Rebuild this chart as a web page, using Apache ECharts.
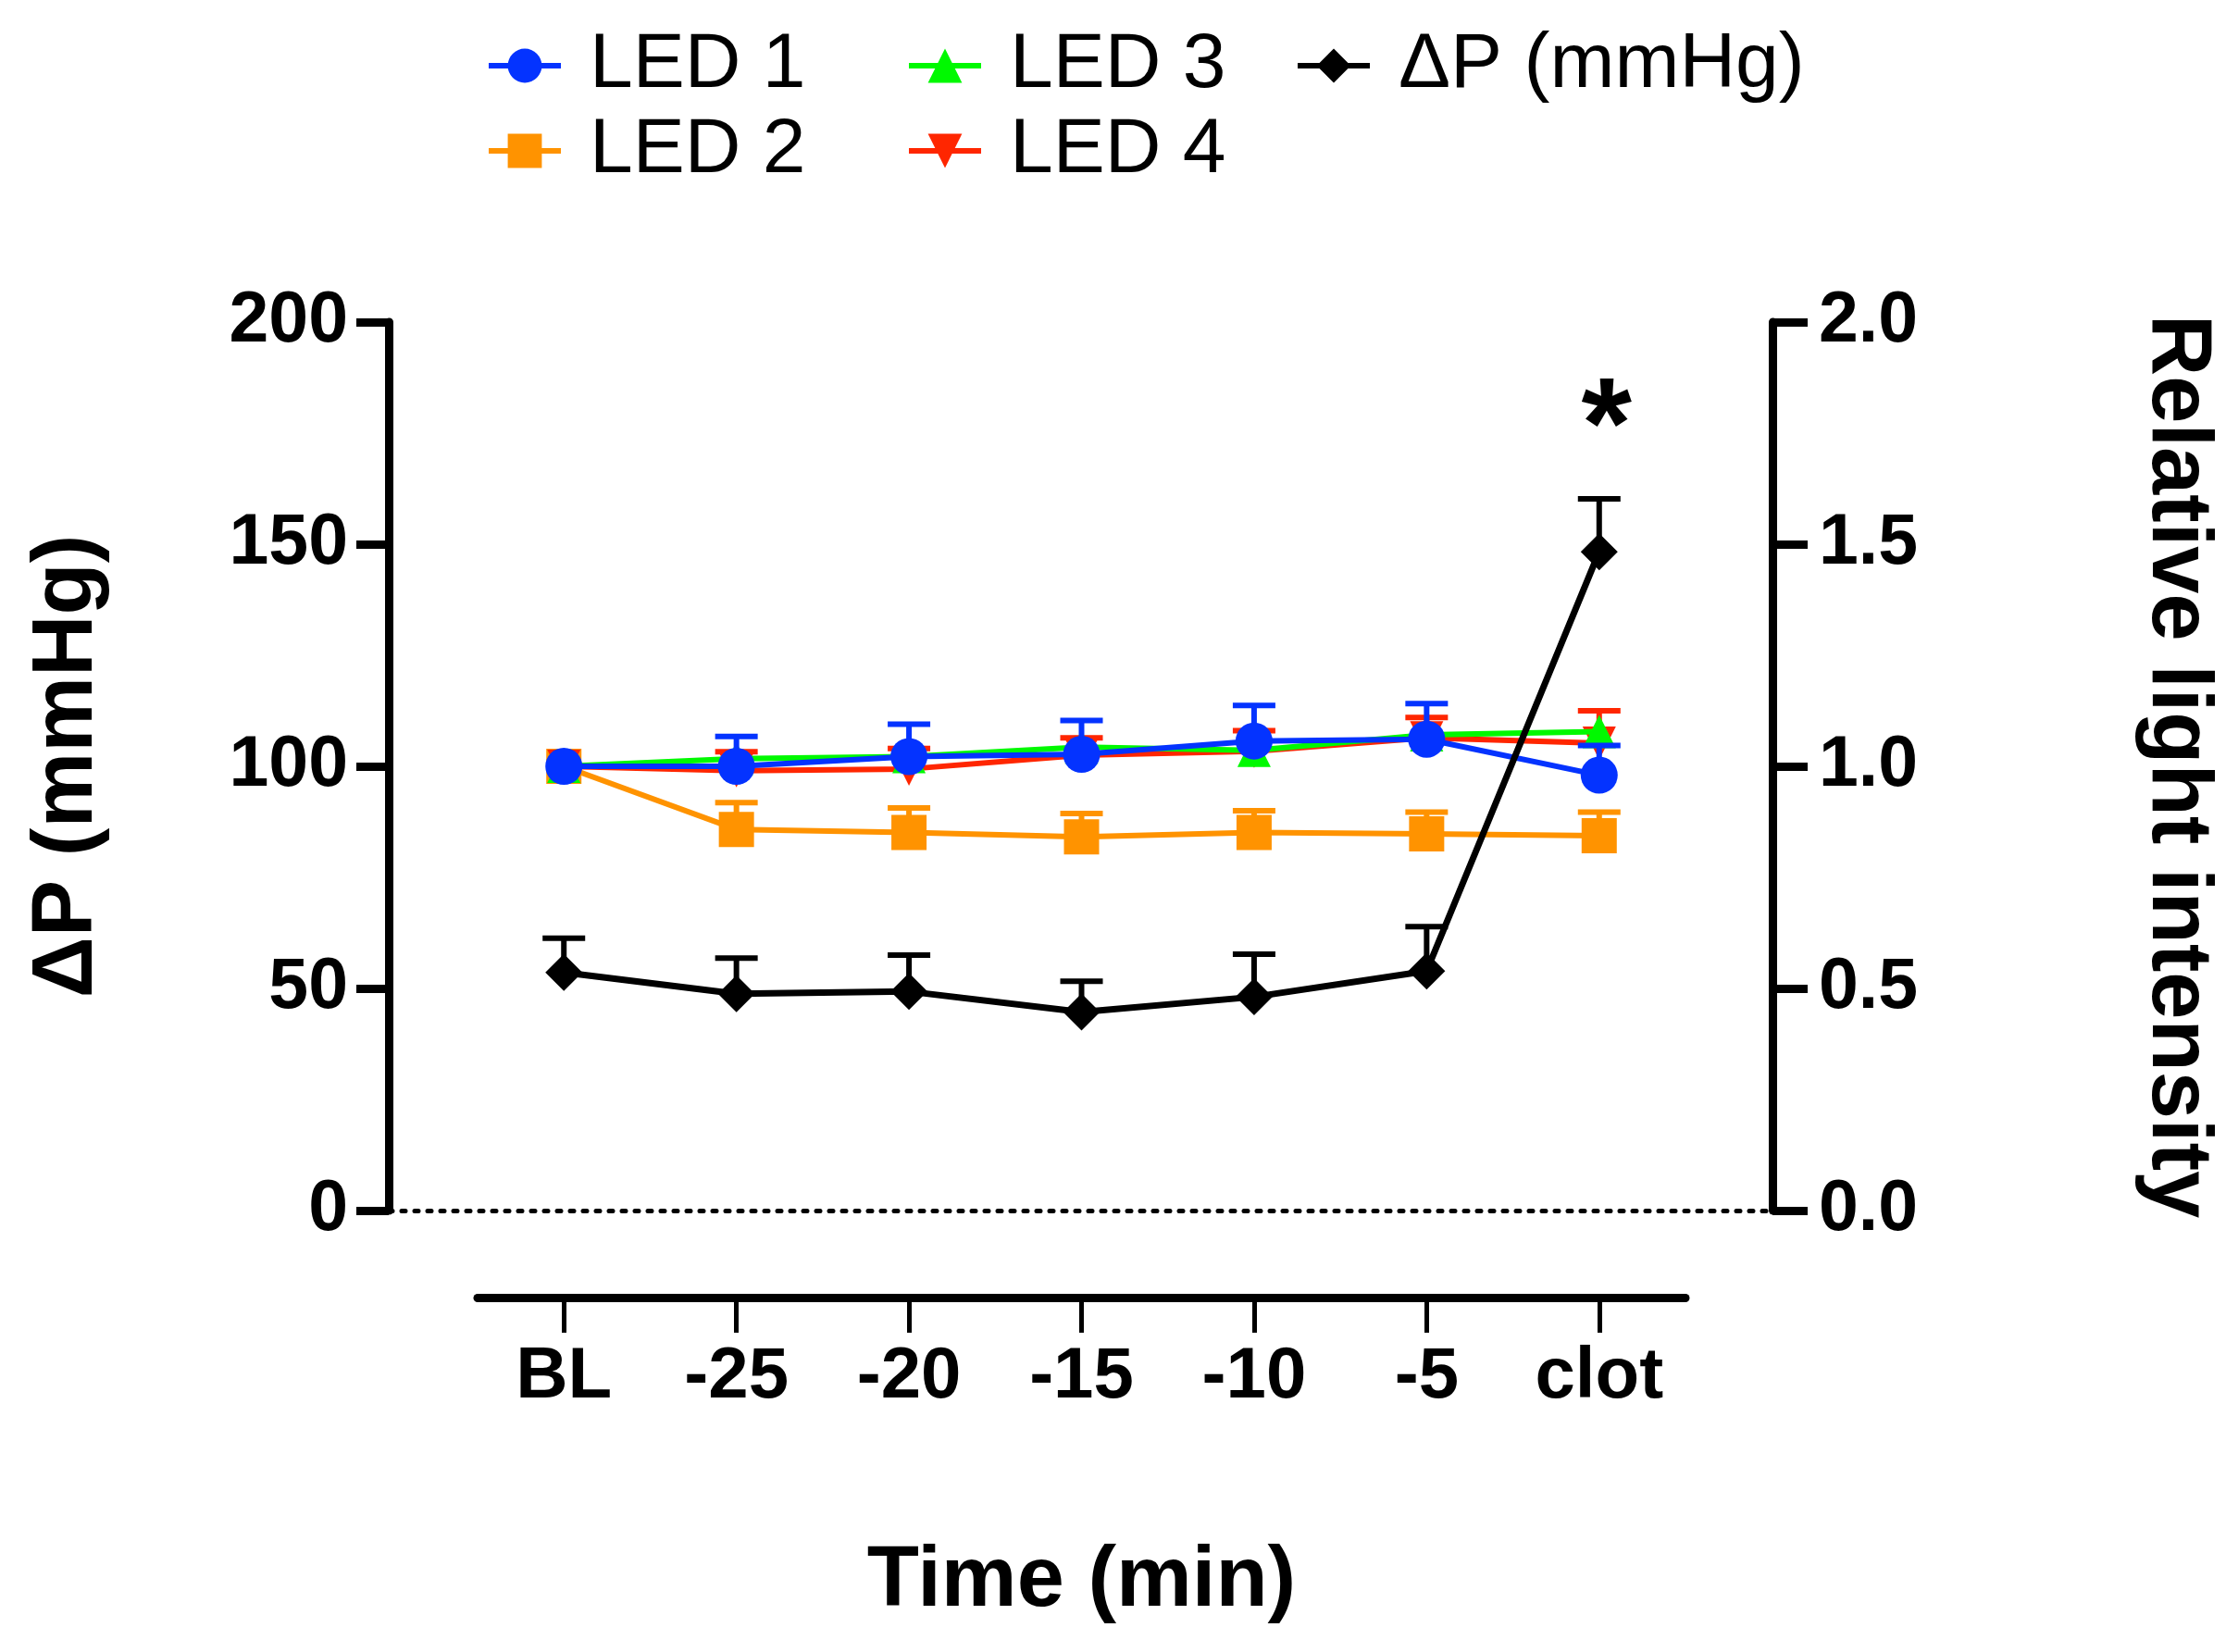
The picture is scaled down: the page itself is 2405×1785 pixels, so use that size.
<!DOCTYPE html>
<html>
<head>
<meta charset="utf-8">
<script src="https://cdn.jsdelivr.net/npm/echarts@6/dist/echarts.min.js"></script>
<style>
  html, body { margin: 0; padding: 0; background: #fff; }
  #chart { width: 2405px; height: 1785px; }
</style>
</head>
<body>
<div id="chart"></div>
<script>
// categories
var times = ['BL', '-25', '-20', '-15', '-10', '-5', 'clot'];

// relative light intensity (mean / mean+SEM)
var led1 = [1.00, 1.00, 1.022, 1.027, 1.057, 1.061, 0.98];
var led1Up = [null, 1.067, 1.095, 1.103, 1.137, 1.141, 1.047];
var led2 = [1.00, 0.858, 0.851, 0.841, 0.851, 0.848, 0.844];
var led2Up = [null, 0.918, 0.906, 0.894, 0.90, 0.897, 0.897];
var led3 = [1.00, 1.017, 1.022, 1.043, 1.036, 1.071, 1.078];
var led4 = [1.00, 0.99, 0.994, 1.025, 1.034, 1.064, 1.052];
var led4Up = [null, 1.033, 1.04, 1.064, 1.08, 1.11, 1.125];

// pressure (mmHg)
var dp = [53.6, 48.8, 49.3, 44.7, 48.1, 53.9, 148.3];
var dpUp = [61.3, 56.8, 57.5, 51.6, 57.7, 63.9, 160.2];
var dpSig = ['', '', '', '', '', '', '*'];

// tick labels
var leftTicks = [0, 50, 100, 150, 200];
var rightTicks = [0, 0.5, 1.0, 1.5, 2.0];

var FONT = '"Liberation Sans", Arial, Helvetica, sans-serif';
var BLUE = '#0433FF', ORANGE = '#FF9300', GREEN = '#00F900', RED = '#FF2600', BLACK = '#000000';

var chart = echarts.init(document.getElementById('chart'));

function errData(mean, up, sig) {
    var out = [];
    for (var i = 0; i < mean.length; i++) {
        if (up[i] == null) continue;
        out.push([i, mean[i], up[i], sig ? sig[i] : '']);
    }
    return out;
}

// upper error bars (stem + cap)
function errSeries(name, color, mean, up, yIdx, z, sig) {
    return {
        type: 'custom',
        name: name + ' err',
        xAxisIndex: 1,
        yAxisIndex: yIdx,
        z: z,
        silent: true,
        data: errData(mean, up, sig),
        renderItem: function(params, api) {
            var p0 = api.coord([api.value(0), api.value(1)]);
            var p1 = api.coord([api.value(0), api.value(2)]);
            var half = 23;
            var style = { stroke: color, lineWidth: 6 };
            var kids = [
                { type: 'line', shape: { x1: p0[0], y1: p0[1], x2: p1[0], y2: p1[1] }, style: style },
                { type: 'line', shape: { x1: p1[0] - half, y1: p1[1], x2: p1[0] + half, y2: p1[1] }, style: style }
            ];
            var s = sig ? sig[api.value(0)] : '';
            if (s) {
                kids.push({
                    type: 'text',
                    style: {
                        text: s, x: p1[0] + 8, y: p1[1] - 73,
                        fill: BLACK, font: 'bold 140px ' + FONT,
                        textAlign: 'center', textVerticalAlign: 'middle'
                    }
                });
            }
            return { type: 'group', children: kids };
        }
    };
}

function lineSeries(name, color, data, yIdx, z, symbol, size, rotate, width) {
    return {
        type: 'line',
        name: name,
        xAxisIndex: 1,
        yAxisIndex: yIdx,
        z: z,
        data: data,
        symbol: symbol,
        symbolSize: size,
        symbolRotate: rotate || 0,
        showAllSymbol: true,
        lineStyle: { color: color, width: width || 6 },
        itemStyle: { color: color, opacity: 1 },
        emphasis: { disabled: true }
    };
}

var legendText = { fontFamily: FONT, fontSize: 84, color: '#000', padding: [0, 0, 0, 26] };
function legend(names, left) {
    return {
        data: names, orient: 'vertical', left: left, top: 24,
        itemWidth: 78, itemHeight: 46, itemGap: 8,
        lineStyle: { width: 6 },
        textStyle: legendText, selectedMode: false
    };
}

var option = {
    animation: false,
    backgroundColor: '#fff',
    legend: [
        legend(['LED 1', 'LED 2'], 520),
        legend(['LED 3', 'LED 4'], 974),
        legend(['ΔP (mmHg)'], 1394)
    ],
    grid: [
        { left: 420, right: 488, top: 348, bottom: 477 },
        { left: 516, right: 584, top: 348, bottom: 477 }
    ],
    xAxis: [
        {
            gridIndex: 0, type: 'value', min: 0, max: 1,
            axisLine: { show: true, onZero: true, lineStyle: { color: '#000', width: 5, type: [4, 10], cap: 'round' } },
            axisTick: { show: false }, axisLabel: { show: false }, splitLine: { show: false }
        },
        {
            gridIndex: 1, type: 'category', data: times, boundaryGap: true, offset: 94,
            axisLine: { show: true, onZero: false, lineStyle: { color: '#000', width: 9 } },
            axisTick: { show: true, alignWithLabel: true, length: 38, lineStyle: { color: '#000', width: 5 } },
            axisLabel: { fontFamily: FONT, fontWeight: 'bold', fontSize: 78, color: '#000', margin: 47 },
            name: 'Time (min)', nameLocation: 'middle', nameGap: 262,
            nameTextStyle: { fontFamily: FONT, fontWeight: 'bold', fontSize: 92, color: '#000' }
        }
    ],
    yAxis: [
        {
            gridIndex: 0, type: 'value', position: 'left',
            min: leftTicks[0], max: leftTicks[leftTicks.length - 1], interval: 50,
            axisLine: { show: true, lineStyle: { color: '#000', width: 9 } },
            axisTick: { show: true, length: 35, lineStyle: { color: '#000', width: 9 } },
            axisLabel: { fontFamily: FONT, fontWeight: 'bold', fontSize: 77, color: '#000', margin: 44 },
            splitLine: { show: false },
            name: 'ΔP (mmHg)', nameLocation: 'middle', nameGap: 300,
            nameTextStyle: { fontFamily: FONT, fontWeight: 'bold', fontSize: 92, color: '#000' }
        },
        {
            gridIndex: 0, type: 'value', position: 'right',
            min: rightTicks[0], max: rightTicks[rightTicks.length - 1], interval: 0.5,
            axisLine: { show: true, lineStyle: { color: '#000', width: 9 } },
            axisTick: { show: true, length: 38, lineStyle: { color: '#000', width: 9 } },
            axisLabel: {
                fontFamily: FONT, fontWeight: 'bold', fontSize: 77, color: '#000', margin: 50,
                formatter: function(v) { return v.toFixed(1); }
            },
            splitLine: { show: false },
            name: 'Relative light intensity', nameLocation: 'middle', nameGap: 390, nameRotate: -90,
            nameTextStyle: { fontFamily: FONT, fontWeight: 'bold', fontSize: 92, color: '#000' }
        },
        { gridIndex: 1, type: 'value', min: 0, max: 200, show: false },
        { gridIndex: 1, type: 'value', min: 0, max: 2, show: false }
    ],
    series: [
        errSeries('LED 2', ORANGE, led2, led2Up, 3, 10),
        lineSeries('LED 2', ORANGE, led2, 3, 11, 'rect', 38),
        errSeries('LED 4', RED, led4, led4Up, 3, 12),
        lineSeries('LED 4', RED, led4, 3, 13, 'triangle', 36, 180),
        lineSeries('LED 3', GREEN, led3, 3, 15, 'triangle', 36),
        errSeries('LED 1', BLUE, led1, led1Up, 3, 16),
        lineSeries('LED 1', BLUE, led1, 3, 17, 'circle', 40),
        errSeries('ΔP (mmHg)', BLACK, dp, dpUp, 2, 18, dpSig),
        lineSeries('ΔP (mmHg)', BLACK, dp, 2, 19, 'diamond', [40, 40], 0, 7)
    ]
};

chart.setOption(option);
</script>
</body>
</html>
